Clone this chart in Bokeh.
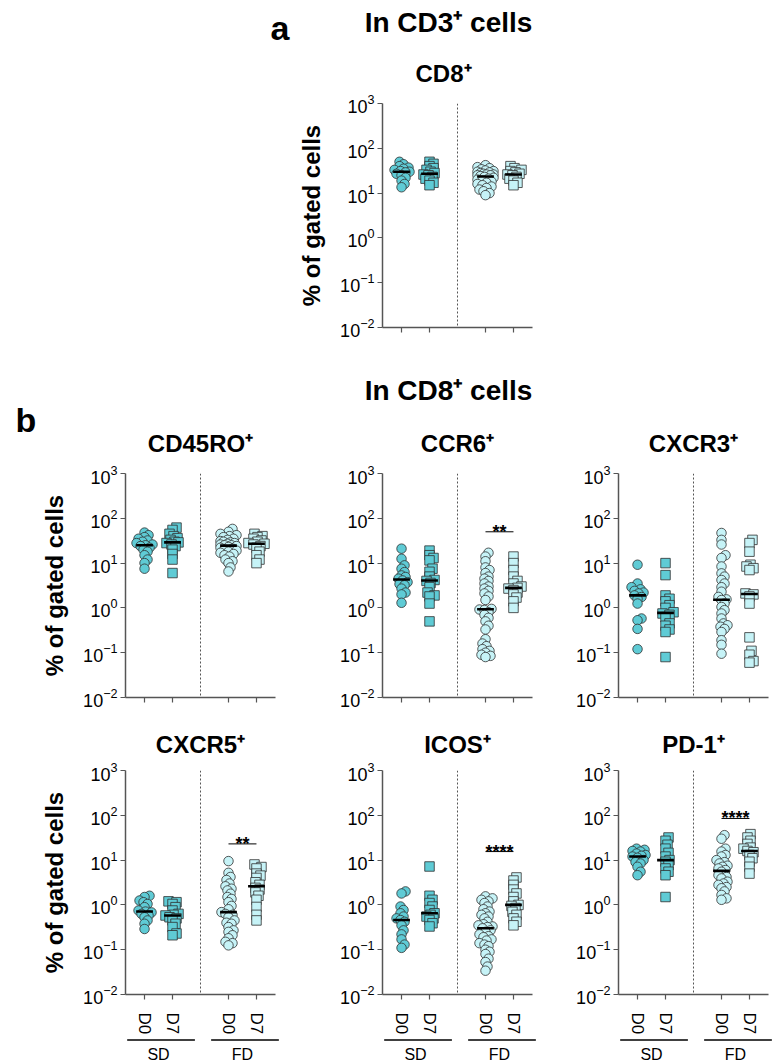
import numpy as np
from bokeh.plotting import figure
from bokeh.layouts import column, row
from bokeh.models import Range1d, Span, FixedTicker, Spacer
from bokeh.core.properties import value
from bokeh.embed import file_html
from bokeh.resources import INLINE

# ---------------- data (percent of gated cells) ----------------
groups = ["SD", "FD"]
days = ["D0", "D7"]
positions = [0, 1, 3, 4]          # SD-D0, SD-D7, FD-D0, FD-D7

cd8_sd_d0 = [50, 44, 40, 37, 35, 33, 31, 30, 29, 27, 25, 22, 19, 16, 13.5]
cd8_sd_d7 = [50, 45, 40, 36, 33, 30, 28, 26, 25, 23, 21, 19, 17, 15]
cd8_fd_d0 = [42, 38, 36, 34, 32, 31, 30, 29, 28, 27, 26, 26, 25, 25, 24, 23, 22, 21, 20, 19,
             18, 17, 16, 15, 14, 13, 12, 11, 10, 9]
cd8_fd_d7 = [40, 36, 33, 31, 29, 27, 26, 25, 23, 21, 19, 17, 15]

cd45_sd_d0 = [48, 42, 38, 35, 32, 30, 28, 26, 25, 24, 22, 20, 18, 15, 12, 10, 7.5]
cd45_sd_d7 = [62, 55, 45, 40, 36, 33, 30, 29, 28, 26, 24, 20, 16, 12, 6]
cd45_fd_d0 = [58, 50, 45, 42, 40, 38, 35, 33, 31, 30, 29, 28, 27, 26, 25, 25, 24, 23, 22, 21,
              20, 19, 18, 17, 16, 15, 14, 12, 11, 10, 8, 6.5]
cd45_fd_d7 = [45, 40, 38, 35, 32, 30, 28, 27, 26, 24, 22, 18, 15, 12, 10]

ccr6_sd_d0 = [21, 12.5, 8.9, 7.5, 6.3, 5.3, 4.9, 4.5, 4.1, 3.75, 3.4, 3.2, 2.7, 2.2, 2.0, 1.3]
ccr6_sd_d7 = [19, 15, 13, 11.5, 7.5, 6.4, 5, 4.2, 4, 3.6, 2.9, 2.2, 1.9, 1.8, 1.25, 0.5]
ccr6_fd_d0 = [17, 14, 11, 8, 7, 6, 5, 4.5, 4, 3.5, 3, 2.7, 2.4, 2.1, 1.8, 1.5, 0.95, 0.92, 0.9,
              0.8, 0.7, 0.6, 0.5, 0.4, 0.33, 0.2, 0.16, 0.14, 0.12, 0.11, 0.1, 0.09, 0.085, 0.08]
ccr6_fd_d7 = [14, 10, 7, 5, 4, 3.5, 3, 2.8, 2.7, 2.5, 2.2, 2.0, 1.7, 1.4, 1.0]

cxcr3_sd_d0 = [9.2, 3.5, 2.9, 2.6, 2.4, 2.2, 2.1, 1.9, 1.75, 1.6, 1.25, 0.58, 0.53, 0.34, 0.12]
cxcr3_sd_d7 = [10, 5.4, 1.9, 1.6, 1.4, 1.15, 1.0, 0.8, 0.75, 0.7, 0.62, 0.45, 0.4, 0.33, 0.29, 0.08]
cxcr3_fd_d0 = [47, 33, 26, 15, 13, 8.4, 5.9, 5, 4.2, 3.5, 2.9, 2.3, 1.76, 1.55, 1.5, 1.25, 1.05,
               0.89, 0.75, 0.58, 0.45, 0.41, 0.38, 0.34, 0.29, 0.19, 0.15, 0.095]
cxcr3_fd_d7 = [33, 28, 18, 9.2, 8.4, 7.7, 7, 2.1, 2.0, 1.8, 1.25, 0.22, 0.11, 0.09, 0.065, 0.06]

cxcr5_sd_d0 = [1.6, 1.5, 1.25, 1.15, 1.05, 0.89, 0.75, 0.71, 0.68, 0.63, 0.58, 0.53, 0.45, 0.38, 0.29]
cxcr5_sd_d7 = [1.2, 1.15, 1.05, 0.89, 0.75, 0.63, 0.6, 0.58, 0.53, 0.5, 0.45, 0.38, 0.32, 0.23, 0.21]
cxcr5_fd_d0 = [9.5, 5.2, 4.2, 3.6, 3.0, 2.6, 2.3, 2.1, 1.78, 1.5, 1.36, 1.15, 0.95, 0.8, 0.69,
               0.63, 0.6, 0.53, 0.45, 0.4, 0.38, 0.32, 0.27, 0.25, 0.21, 0.18, 0.15, 0.14, 0.125]
cxcr5_fd_d7 = [8, 7, 6.5, 5, 4.5, 4, 3.2, 2.8, 2.4, 2.2, 1.9, 1.6, 1.3, 0.9, 0.6, 0.45]

icos_sd_d0 = [2.0, 1.8, 0.92, 0.77, 0.65, 0.55, 0.5, 0.46, 0.42, 0.35, 0.27, 0.22, 0.17, 0.13, 0.11]
icos_sd_d7 = [7.2, 1.6, 1.3, 1.1, 0.92, 0.77, 0.65, 0.6, 0.55, 0.5, 0.46, 0.39, 0.33]
icos_fd_d0 = [1.55, 1.4, 1.3, 1.2, 1.1, 0.92, 0.8, 0.71, 0.65, 0.6, 0.55, 0.5, 0.42, 0.37, 0.35,
              0.33, 0.32, 0.3, 0.27, 0.25, 0.22, 0.2, 0.19, 0.17, 0.16, 0.14, 0.13, 0.12, 0.1,
              0.09, 0.08, 0.063, 0.053, 0.042, 0.034]
icos_fd_d7 = [4.1, 3.5, 2.8, 2.2, 1.8, 1.5, 1.2, 1.0, 0.95, 0.85, 0.7, 0.6, 0.5, 0.42, 0.35]

pd1_sd_d0 = [18, 17, 16, 15.5, 14, 13, 12.5, 12, 11.3, 10, 9, 8.4, 7.1, 5.5, 4.6]
pd1_sd_d7 = [32, 27, 22, 18, 14.5, 12, 10, 9.2, 7.7, 6.5, 5.5, 4.6, 1.5]
pd1_fd_d0 = [36, 30, 18, 15.5, 13, 12, 10, 9, 8.4, 7.5, 7.1, 6.5, 6, 5.5, 4.6, 4.2, 3.9, 3.3,
             3, 2.8, 2.5, 2.35, 2, 1.67, 1.4, 1.3]
pd1_fd_d7 = [38, 32, 27, 23, 19, 18, 16, 15, 13, 11, 9.2, 7.1, 5]

panel_titles = ["CD8⁺", "CD45RO⁺", "CCR6⁺", "CXCR3⁺", "CXCR5⁺", "ICOS⁺", "PD-1⁺"]
sig_labels = [None, None, "**", None, "**", "****", "****"]
sig_levels = [None, None, 50, None, 23, 15.5, 85]
y_ticks = [0.01, 0.1, 1, 10, 100, 1000]

# ---------------- style / layout constants ----------------
FONT = "Liberation Sans"
SD_FILL = "#5FCBD5"
FD_FILL = "#C6F3F7"
EDGE = "#2E2E2E"
AXIS = "#555555"
W = 775
FW, FH = 150, 224
XMIN, XMAX = -0.68, 4.68
PPU = FW / (XMAX - XMIN)
PPD = FH / 5.0
COL_BL = [125, 97, 76]
COL_BR = [10, 10, 7]
BASE_SHIFT = 0.36   # text glyph baseline correction (fraction of font size)


def swarm(vals, dia=9.5, overlap=0.45, max_px=8):
    y = np.log10(np.asarray(vals, dtype=float)) * PPD
    order = np.argsort(y)
    placed = []
    offs = np.zeros(len(y))
    cands = [0.0]
    for k in range(1, max_px + 1):
        cands += [float(k), float(-k)]
    for i in order:
        chosen, best_c, best_d = None, 0.0, -1.0
        for c in cands:
            if placed:
                dmin = min(np.hypot(c - ox, y[i] - oy) for ox, oy in placed)
            else:
                dmin = 1e9
            if dmin >= dia * overlap:
                chosen = c
                break
            if dmin > best_d:
                best_d, best_c = dmin, c
        if chosen is None:
            chosen = best_c
        placed.append((chosen, y[i]))
        offs[i] = chosen
    return offs / PPU


def make_panel(data, bl, br, bt, bb, ylabel=None, xlabels=False, sig=None, sig_y=None):
    p = figure(title=None, frame_width=FW, frame_height=FH,
               min_border_left=bl, min_border_right=br,
               min_border_top=bt, min_border_bottom=bb,
               x_range=Range1d(XMIN, XMAX), y_range=Range1d(0.01, 1000),
               y_axis_type="log", toolbar_location=None, output_backend="svg")
    p.outline_line_color = None
    p.grid.visible = False
    p.background_fill_color = "white"

    for ax in (p.xaxis[0], p.yaxis[0]):
        ax.axis_line_color = AXIS
        ax.axis_line_width = 1.5
        ax.major_tick_line_color = AXIS
        ax.major_tick_line_width = 1.2
        ax.major_tick_in = 0
        ax.major_tick_out = 5
        ax.minor_tick_line_color = None
        ax.major_label_text_font = FONT
        ax.major_label_text_font_size = "17px"
        ax.major_label_text_color = "black"

    ya = p.yaxis[0]
    ya.ticker = FixedTicker(ticks=y_ticks, minor_ticks=[])
    ya.major_label_standoff = 3
    ya.major_label_text_font_size = "18px"
    if ylabel:
        ya.axis_label = ylabel
        ya.axis_label_text_font = FONT
        ya.axis_label_text_font_style = "bold"
        ya.axis_label_text_font_size = "24px"
        ya.axis_label_text_color = "black"
        ya.axis_label_standoff = 12

    xa = p.xaxis[0]
    xa.ticker = FixedTicker(ticks=positions, minor_ticks=[])
    if xlabels:
        xa.major_label_overrides = {positions[i]: days[i % 2] for i in range(4)}
        xa.major_label_orientation = "vertical"
        xa.major_label_standoff = 13
    else:
        xa.major_label_overrides = {pos: "" for pos in positions}
        xa.major_label_standoff = 0

    p.add_layout(Span(location=2, dimension="height", line_color=AXIS,
                      line_dash="2 2", line_width=1))

    markers = ["circle", "square", "circle", "square"]
    fills = [SD_FILL, SD_FILL, FD_FILL, FD_FILL]
    for vals, pos, mk, fc in zip(data, positions, markers, fills):
        xs = pos + swarm(vals)
        p.scatter(xs, vals, marker=mk, size=9.5, fill_color=fc,
                  line_color=EDGE, line_width=0.8)
    meds = [float(np.median(v)) for v in data]
    p.segment(x0=[x - 0.3 for x in positions], x1=[x + 0.3 for x in positions],
              y0=meds, y1=meds, line_color="black", line_width=2.6)

    if sig:
        p.segment(x0=[positions[2]], x1=[positions[3]], y0=[sig_y], y1=[sig_y],
                  line_color="black", line_width=1)
        p.text(x=[(positions[2] + positions[3]) / 2], y=[sig_y], text=[sig],
               text_align="center", text_baseline="alphabetic",
               text_font=value(FONT), text_font_style="bold",
               text_font_size="18px", text_color="black")
    return p


def header(h, items):
    p = figure(title=None, width=W, height=h, x_range=Range1d(0, W), y_range=Range1d(h, 0),
               min_border=0, toolbar_location=None, output_backend="svg",
               x_axis_location=None, y_axis_location=None)
    p.outline_line_color = None
    p.grid.visible = False
    for (x, y, txt, size, align, style) in items:
        p.text(x=[x], y=[y - BASE_SHIFT * size], text=[txt], text_align=align,
               text_baseline="alphabetic", text_font=value(FONT), text_font_style=style,
               text_font_size=f"{size}px", text_color="black")
    return p


def footer(col, h):
    bl, br = COL_BL[col], COL_BR[col]
    width = bl + FW + br
    xs = XMIN - bl / PPU
    p = figure(title=None, width=width, height=h, x_range=Range1d(xs, xs + width / PPU),
               y_range=Range1d(h, 0), min_border=0, toolbar_location=None,
               output_backend="svg", x_axis_location=None, y_axis_location=None)
    p.outline_line_color = None
    p.grid.visible = False
    g_lo = [positions[0], positions[2]]
    g_hi = [positions[1], positions[3]]
    p.segment(x0=[g - 0.62 for g in g_lo], x1=[g + 0.8 for g in g_hi],
              y0=[2.5, 2.5], y1=[2.5, 2.5], line_color="black", line_width=1.5)
    p.text(x=[(a + b) / 2 for a, b in zip(g_lo, g_hi)], y=[23 - BASE_SHIFT * 16] * 2,
           text=groups, text_align="center", text_baseline="alphabetic",
           text_font=value(FONT), text_font_size="16px", text_color="black")
    return p


YLAB = "% of gated cells"
col_left = [0, COL_BL[0] + FW + COL_BR[0],
            COL_BL[0] + FW + COL_BR[0] + COL_BL[1] + FW + COL_BR[1]]
frame_centers = [col_left[i] + COL_BL[i] + FW / 2 for i in range(3)]

# panel a   (header 88 + figure 15+224+17 = 256)
hA = header(88, [(270, 40, "a", 34, "left", "bold"),
                 (448, 32, "In CD3⁺ cells", 28, "center", "bold"),
                 (443, 82, panel_titles[0], 24, "center", "bold")])
figA = make_panel([cd8_sd_d0, cd8_sd_d7, cd8_fd_d0, cd8_fd_d7], 97, 10, 15, 17, ylabel=YLAB)
rowA = row(Spacer(width=col_left[1], height=256), figA)

# panel b, row 1   (header starts at page y 344)
hB = header(121, [(15, 88, "b", 34, "left", "bold"),
                  (448, 56, "In CD8⁺ cells", 28, "center", "bold")] +
            [(frame_centers[i], 108, panel_titles[1 + i], 24, "center", "bold") for i in range(3)])
row1_data = [[cd45_sd_d0, cd45_sd_d7, cd45_fd_d0, cd45_fd_d7],
             [ccr6_sd_d0, ccr6_sd_d7, ccr6_fd_d0, ccr6_fd_d7],
             [cxcr3_sd_d0, cxcr3_sd_d7, cxcr3_fd_d0, cxcr3_fd_d7]]
row1 = row(*[make_panel(row1_data[i], COL_BL[i], COL_BR[i], 8, 16,
                        ylabel=YLAB if i == 0 else None,
                        sig=sig_labels[1 + i], sig_y=sig_levels[1 + i]) for i in range(3)])

# panel b, row 2   (header starts at page y 713)
hC = header(49, [(frame_centers[i], 40, panel_titles[4 + i], 24, "center", "bold") for i in range(3)])
row2_data = [[cxcr5_sd_d0, cxcr5_sd_d7, cxcr5_fd_d0, cxcr5_fd_d7],
             [icos_sd_d0, icos_sd_d7, icos_fd_d0, icos_fd_d7],
             [pd1_sd_d0, pd1_sd_d7, pd1_fd_d0, pd1_fd_d7]]
row2 = row(*[make_panel(row2_data[i], COL_BL[i], COL_BR[i], 8, 42,
                        ylabel=YLAB if i == 0 else None, xlabels=True,
                        sig=sig_labels[4 + i], sig_y=sig_levels[4 + i]) for i in range(3)])
foot = row(*[footer(i, 26) for i in range(3)])

layout = column(hA, rowA, hB, row1, hC, row2, foot)
open("out.html", "w").write(file_html(layout, INLINE))
